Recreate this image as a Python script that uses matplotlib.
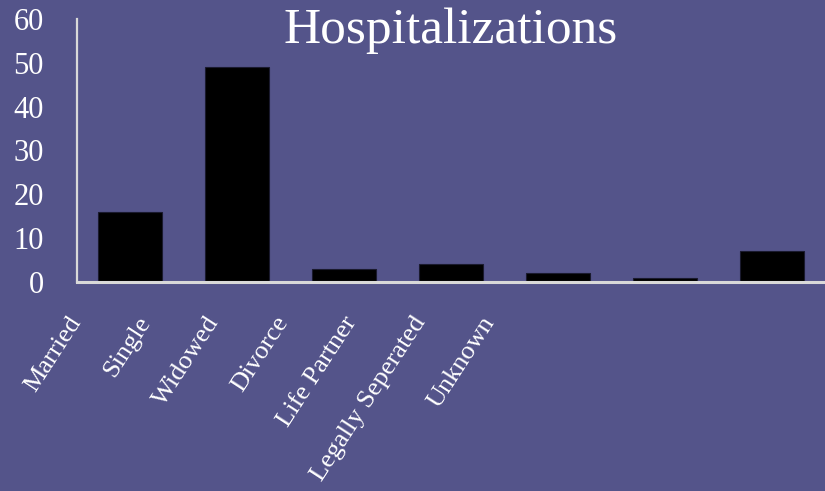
import matplotlib
matplotlib.use("Agg")
import matplotlib.pyplot as plt
import matplotlib.transforms as mtransforms
import numpy as np

# data
categories = ["Married", "Single", "Widowed", "Divorce", "Life Partner",
              "Legally Seperated", "Unknown"]
hospitalizations = [16, 49, 3, 4, 2, 1, 7]
y_ticks = [0, 10, 20, 30, 40, 50, 60]

bg = "#54548A"
axis_col = "#D9D9D9"

plt.rcParams["font.family"] = ["Liberation Serif", "DejaVu Serif"]

fig = plt.figure(figsize=(8.25, 4.91), dpi=100, facecolor=bg)
ax = fig.add_axes([0.0933, 0.4257, 0.9067, 0.5357])
ax.set_facecolor(bg)

x = np.arange(len(categories))
ax.bar(x, hospitalizations, width=0.6, color="black", edgecolor="#1a1a2e", linewidth=0.8)

ax.set_xlim(-0.5, 6.5)
ax.set_ylim(0, 60)
ax.set_yticks(y_ticks)
ax.set_yticklabels([str(v) for v in y_ticks], color="white", fontsize=22)
ax.tick_params(axis="y", length=0, pad=24)
ax.set_xticks([])

for side in ["top", "right"]:
    ax.spines[side].set_visible(False)
ax.spines["left"].set_color(axis_col)
ax.spines["bottom"].set_color(axis_col)
ax.spines["left"].set_linewidth(1.6)
ax.spines["bottom"].set_linewidth(2.2)

# category labels (rotated, squeezed like the original)
trans = mtransforms.blended_transform_factory(ax.transData, ax.transAxes)
for i, lab in enumerate(categories):
    ax.text(i * 0.645 - 0.59, -0.115, lab, transform=trans, rotation=57,
            rotation_mode="anchor", ha="right", va="top",
            color="white", fontsize=19)

ax.text(0.5, 0.909, "Hospitalizations", transform=ax.transAxes,
        ha="center", va="baseline", color="white", fontsize=37)

fig.savefig("out.png", dpi=100, facecolor=bg)
